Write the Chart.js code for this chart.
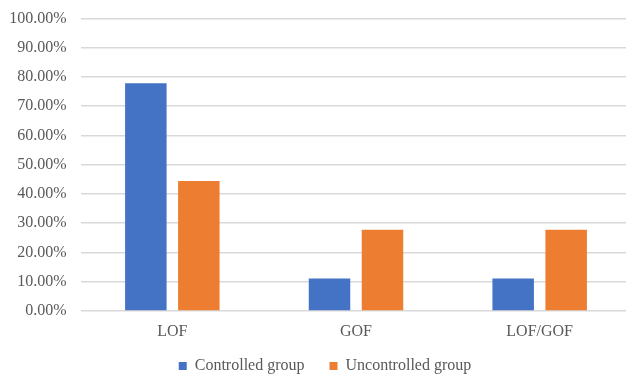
<!DOCTYPE html>
<html>
<head>
<meta charset="utf-8">
<script src="https://cdn.jsdelivr.net/npm/chart.js@4/dist/chart.umd.min.js"></script>
<style>
  html, body { margin: 0; padding: 0; background: #ffffff; overflow: hidden; }
  #frame { width: 626px; height: 377px; overflow: hidden; position: relative; }
  #wrap { width: 650px; height: 392px; position: absolute; left: 0; top: 0; }
</style>
</head>
<body>
<div id="frame">
  <div id="wrap"><canvas id="chart" width="650" height="392"></canvas></div>
</div>
<script>
// Variant categories and share of patients (%) in each group
const categories = ['LOF', 'GOF', 'LOF/GOF'];
const controlledGroup = [77.78, 11.11, 11.11];
const uncontrolledGroup = [44.44, 27.78, 27.78];
const seriesNames = ['Controlled group', 'Uncontrolled group'];
const yTickStep = 10;
const yMax = 100;

const textColor = '#595959';
const font = { family: "'Liberation Serif', 'Times New Roman', serif", size: 16 };

// Moves the legend block by a fixed offset after the layout pass
const legendNudge = {
  id: 'legendNudge',
  afterLayout(chart, args, opts) {
    const lg = chart.legend;
    if (!lg) return;
    lg.left += opts.dx; lg.right += opts.dx;
    lg.top += opts.dy; lg.bottom += opts.dy;
  }
};

new Chart(document.getElementById('chart'), {
  type: 'bar',
  data: {
    labels: categories,
    datasets: [
      { label: seriesNames[0], data: controlledGroup, backgroundColor: '#4472C4' },
      { label: seriesNames[1], data: uncontrolledGroup, backgroundColor: '#ED7D31' }
    ]
  },
  plugins: [legendNudge],
  options: {
    responsive: false,
    animation: false,
    devicePixelRatio: 1,
    layout: { padding: { top: 18.3, left: 0, right: 18.5, bottom: 0 } },
    datasets: {
      bar: { categoryPercentage: 0.577, barPercentage: 0.783 }
    },
    scales: {
      x: {
        grid: { display: false, drawTicks: false },
        border: { display: false },
        ticks: { color: textColor, font: font, padding: 11 },
        afterFit(scale) { scale.height = 30; }
      },
      y: {
        min: 0,
        max: yMax,
        grid: { color: '#d9d9d9', lineWidth: 1.5, drawTicks: false },
        border: { display: false },
        ticks: {
          stepSize: yTickStep,
          color: textColor,
          font: font,
          padding: 14,
          callback: v => v.toFixed(2) + '%'
        },
        afterFit(scale) { scale.width = 80.5; scale.paddingTop = 0; scale.paddingBottom = 0; }
      }
    },
    plugins: {
      tooltip: { enabled: false },
      legendNudge: { dx: 9.25, dy: -8 },
      legend: {
        position: 'bottom',
        labels: { color: textColor, font: font, boxWidth: 8, boxHeight: 8, padding: 25 }
      }
    }
  }
});
</script>
</body>
</html>
